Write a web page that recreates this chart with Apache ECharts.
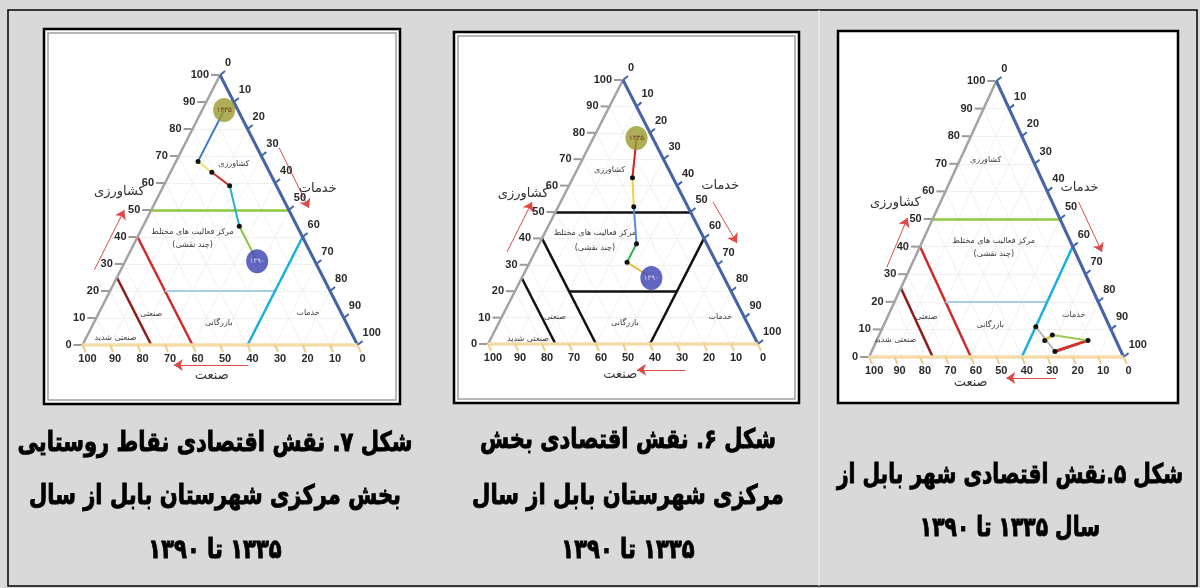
<!DOCTYPE html>
<html><head><meta charset="utf-8">
<script src="https://cdn.jsdelivr.net/npm/echarts@6/dist/echarts.min.js"></script>
<style>html,body{margin:0;padding:0;background:#d9d9d9}#c{width:1200px;height:588px}</style>
</head><body><div id="c"></div>
<script>
// ---------------- data ----------------
const tickValues = [0, 10, 20, 30, 40, 50, 60, 70, 80, 90, 100];

// zone boundary lines (agriculture %, services %), start and end
const boundaryStartAgri = [50, 40, 25, 20, 0];
const boundaryStartServ = [0, 0, 0, 20, 60];
const boundaryEndAgri = [50, 0, 0, 20, 40];
const boundaryEndServ = [50, 40, 25, 60, 60];

// Fig 7: rural points of central district (1335 -> 1390)
const fig7Agri = [87, 68, 64, 59, 44, 31];
const fig7Serv = [8, 8, 15, 24, 35, 48];
// Fig 6: central district
const fig6Agri = [78, 63, 52, 38, 31, 25];
const fig6Serv = [16, 22, 28, 36, 36, 48];
// Fig 5: Babol city
const fig5Agri = [11, 2, 6, 8, 6];
const fig5Serv = [60, 72, 83, 68, 66];

const yearLabels = ['۱۳۳۵', '۱۳۹۰'];
const zoneNames = ['کشاورزی', 'مرکز فعالیت های مختلط', '(چند نقشی)', 'صنعتی', 'بازرگانی', 'خدمات', 'صنعتی شدید'];
const axisTitles = ['کشاورزی', 'خدمات', 'صنعت'];
const caption7 = ['شکل ۷. نقش اقتصادی نقاط روستایی', 'بخش مرکزی شهرستان بابل از سال', '۱۳۳۵ تا ۱۳۹۰'];
const caption6 = ['شکل ۶. نقش اقتصادی بخش', 'مرکزی شهرستان بابل از سال', '۱۳۳۵ تا ۱۳۹۰'];
const caption5 = ['شکل ۵.نقش اقتصادی شهر بابل از', 'سال ۱۳۳۵ تا ۱۳۹۰'];

// ---------------- layout / style ----------------
const colorZones = ['#8dc63f', '#cf2b2b', '#8e1b1b', '#a9cde3', '#1aafe0'];
const blackZones = ['#111', '#111', '#111', '#111', '#111'];
const figs = [
  { agri: fig7Agri, serv: fig7Serv, tri: { x: 80, y: 75, w: 277, h: 270 }, zoneColors: colorZones,
    segColors: ['#3a78c8', '#ece27a', '#cc2a2a', '#2ab0d0', '#8cc34a'], circles: true,
    zoneLabelPos: [[55, 67], [40, 42], [40, 37], [25, 11.5], [49.5, 8], [82, 12], [12, 2.6]],
    titlePos: [[13.4, 56.7], [85.5, 58], [47, -11.5]],
    arrows: [[[4.3, 27.8], [15.2, 50]], [[71.5, 73], [82.3, 50.7]], [[60.3, -7.4], [33.2, -7.4]]] },
  { agri: fig6Agri, serv: fig6Serv, tri: { x: 488, y: 80, w: 270, h: 264 }, zoneColors: blackZones,
    segColors: ['#d82020', '#f0d040', '#5090d8', '#30b040', '#e8c040'], circles: true,
    zoneLabelPos: [[45, 66], [39.6, 42], [39.6, 36.4], [24.8, 10.2], [50.7, 8], [86, 10.2], [14.8, 1.8]],
    titlePos: [[13, 57], [86, 60], [49, -11.7]],
    arrows: [[[7, 34.8], [16.3, 53.8]], [[83.3, 53.8], [92.2, 38.3]], [[73, -9.8], [55.2, -9.8]]] },
  { agri: fig5Agri, serv: fig5Serv, tri: { x: 874, y: 81, w: 271, h: 276 }, zoneColors: colorZones,
    segColors: ['#b8b8c0', '#d03030', '#9ccc50', '#e8c840'], circles: false,
    zoneLabelPos: [[45.8, 71.4], [49, 42], [49, 37.3], [22.5, 14.5], [47.6, 11.6], [80.4, 15.2], [10.3, 6.2]],
    titlePos: [[10.3, 55.8], [82.7, 61.2], [39.9, -9.4]],
    arrows: [[[7, 32.6], [15.1, 50.4]], [[82.3, 56.2], [91.5, 38]], [[73.4, -7.6], [53.9, -7.6]]] }
];

const toXY = (a, s) => [s + a / 2, a];
const FONT_FA = '"DejaVu Sans"';
const FONT_NUM = '"Liberation Sans Narrow", "Liberation Sans"';

function textSeries(gi, positions, texts, font, fill, z) {
  return {
    type: 'custom', coordinateSystem: 'cartesian2d', xAxisIndex: gi, yAxisIndex: gi, z: z || 6, silent: true,
    data: positions.map((p, j) => [p[0], p[1], j]),
    renderItem(params, api) {
      const p = api.coord([api.value(0), api.value(1)]);
      return { type: 'text', x: p[0], y: p[1],
        style: { text: texts[api.value(2)], font: font, fill: fill, align: 'center', verticalAlign: 'middle' } };
    }
  };
}

function tickSeries(gi, side) {
  const data = tickValues.map(v => side === 'left' ? [...toXY(v, 0), v]
    : side === 'right' ? [...toXY(100 - v, v), v] : [...toXY(0, 100 - v), v]);
  return {
    type: 'custom', coordinateSystem: 'cartesian2d', xAxisIndex: gi, yAxisIndex: gi, z: 5, silent: true, data,
    renderItem(params, api) {
      const p = api.coord([api.value(0), api.value(1)]);
      const v = api.value(2);
      let shape, tx, ty, align, stroke;
      if (side === 'left') {
        shape = { x1: p[0] - 9, y1: p[1], x2: p[0] - 1, y2: p[1] }; tx = p[0] - 11; ty = p[1]; align = 'right'; stroke = '#9a9a9a';
      } else if (side === 'right') {
        shape = { x1: p[0], y1: p[1], x2: p[0] + 5, y2: p[1] - 4 }; tx = p[0] + 5; ty = p[1] - 12; align = 'left'; stroke = '#4664a8';
      } else {
        shape = { x1: p[0], y1: p[1], x2: p[0] + 3, y2: p[1] + 7 }; tx = p[0] + 5; ty = p[1] + 14; align = 'center'; stroke = '#ead08a';
      }
      return { type: 'group', children: [
        { type: 'line', shape, style: { stroke, lineWidth: 2 } },
        { type: 'text', x: tx, y: ty, style: { text: String(v), font: 'bold 11px ' + FONT_NUM, fill: '#2a2a2a', align, verticalAlign: 'middle' } }
      ] };
    }
  };
}

function buildFigure(f, gi) {
  const ax = { xAxisIndex: gi, yAxisIndex: gi, coordinateSystem: 'cartesian2d', silent: true };
  const out = [];
  // faint inner grid
  const gridSegs = [];
  tickValues.slice(1, -1).forEach(k => {
    gridSegs.push({ coords: [toXY(k, 0), toXY(k, 100 - k)] });
    gridSegs.push({ coords: [toXY(0, k), toXY(100 - k, k)] });
    gridSegs.push({ coords: [toXY(0, 100 - k), toXY(100 - k, 0)] });
  });
  out.push({ type: 'lines', ...ax, z: 1, lineStyle: { color: '#ececec', width: 0.8, opacity: 1 }, data: gridSegs });
  // zone boundaries
  out.push({ type: 'lines', ...ax, z: 3,
    data: boundaryStartAgri.map((a, j) => ({
      coords: [toXY(a, boundaryStartServ[j]), toXY(boundaryEndAgri[j], boundaryEndServ[j])],
      lineStyle: { color: f.zoneColors[j], width: j === 3 && f.zoneColors !== blackZones ? 2 : 2.5, opacity: 1 } })) });
  // edges
  out.push({ type: 'lines', ...ax, z: 4, data: [
    { coords: [toXY(0, 0), toXY(100, 0)], lineStyle: { color: '#a3a3a3', width: 2.5, opacity: 1 } },
    { coords: [toXY(100, 0), toXY(0, 100)], lineStyle: { color: '#4664a8', width: 3, opacity: 1 } },
    { coords: [toXY(0, 0), toXY(0, 100)], lineStyle: { color: '#f3dca8', width: 3.5, opacity: 1 } }
  ] });
  out.push(tickSeries(gi, 'left'), tickSeries(gi, 'right'), tickSeries(gi, 'bottom'));
  // arrows
  out.push({ type: 'lines', ...ax, z: 4, symbol: ['none', 'arrow'], symbolSize: 9,
    lineStyle: { color: '#dd4a4a', width: 1, opacity: 1 },
    data: f.arrows.map(a => ({ coords: a })) });
  // path
  const pts = f.agri.map((a, j) => toXY(a, f.serv[j]));
  out.push({ type: 'lines', ...ax, z: 7,
    data: pts.slice(1).map((p, j) => ({ coords: [pts[j], p],
      lineStyle: { color: f.segColors[j], width: f.circles ? 2 : (j === 1 || j === 3 ? 3 : 2), opacity: 1 } })) });
  const dots = f.circles ? pts.slice(1, -1) : pts;
  out.push({ type: 'scatter', ...ax, z: 8, symbolSize: 5, itemStyle: { color: '#111', opacity: 1 }, data: dots });
  if (f.circles) {
    out.push({ type: 'scatter', ...ax, z: 9, symbolSize: [22, 24],
      data: [
        { value: pts[0], itemStyle: { color: '#9a982e' }, label: { formatter: yearLabels[0], color: '#6a1a10' } },
        { value: pts[pts.length - 1], itemStyle: { color: '#3b40b4' }, label: { formatter: yearLabels[1], color: '#e8e8ff' } }
      ],
      label: { show: true, position: 'inside', fontSize: 7, fontFamily: 'DejaVu Sans' } });
  }
  out.push(textSeries(gi, f.zoneLabelPos, zoneNames, '8px ' + FONT_FA, '#3a3a3a'));
  out.push(textSeries(gi, f.titlePos, axisTitles, '13px ' + FONT_FA, '#333'));
  return out;
}

const series = [];
figs.forEach((f, gi) => series.push(...buildFigure(f, gi)));

const RLE = '\u202B', PDF = '\u202C';
const captionGraphics = [];
const capCols = [
  { lines: caption7, x: 215, ys: [444, 497, 551], sx: 0.78 },
  { lines: caption6, x: 628, ys: [441, 497, 551], sx: 0.78 },
  { lines: caption5, x: 1010, ys: [476, 529], sx: 0.75 }
];
capCols.forEach(c => c.lines.forEach((t, j) => captionGraphics.push({
  type: 'text', x: c.x, y: c.ys[j], z: 1, scaleX: c.sx,
  style: { text: RLE + t + PDF, font: 'bold 27px ' + FONT_FA, fill: '#000', stroke: '#000', lineWidth: 0.9,
    align: 'center', verticalAlign: 'middle' }
})));

const boxes = [
  { x: 44, y: 29, w: 356, h: 375, inner: true },
  { x: 454, y: 32, w: 345, h: 371, inner: true },
  { x: 838, y: 31, w: 340, h: 372, inner: false }
];
const boxGraphics = [];
boxes.forEach(b => {
  boxGraphics.push({ type: 'rect', z: 0, shape: { x: b.x, y: b.y, width: b.w, height: b.h },
    style: { fill: '#fff', stroke: '#000', lineWidth: 2.5 } });
  if (b.inner) boxGraphics.push({ type: 'rect', z: 0, shape: { x: b.x + 4, y: b.y + 4, width: b.w - 8, height: b.h - 8 },
    style: { fill: 'none', stroke: '#a0a0a0', lineWidth: 1.5 } });
});

const chart = echarts.init(document.getElementById('c'), null, { renderer: 'canvas' });
chart.setOption({
  backgroundColor: '#d9d9d9',
  animation: false,
  grid: figs.map(f => ({ left: f.tri.x - 0.3 * f.tri.w, top: f.tri.y - 0.1 * f.tri.h,
    width: 1.6 * f.tri.w, height: 1.3 * f.tri.h, show: false })),
  xAxis: figs.map((f, i) => ({ type: 'value', gridIndex: i, min: -30, max: 130, show: false })),
  yAxis: figs.map((f, i) => ({ type: 'value', gridIndex: i, min: -20, max: 110, show: false })),
  graphic: [
    { type: 'rect', z: 0, shape: { x: 8, y: 10, width: 1189, height: 576 }, style: { fill: 'none', stroke: '#000', lineWidth: 1.5 } },
    { type: 'line', z: 0, shape: { x1: 819, y1: 10, x2: 819, y2: 586 }, style: { stroke: '#f4f4f4', lineWidth: 1 } },
    ...boxGraphics,
    ...captionGraphics
  ],
  series
});
</script></body></html>
